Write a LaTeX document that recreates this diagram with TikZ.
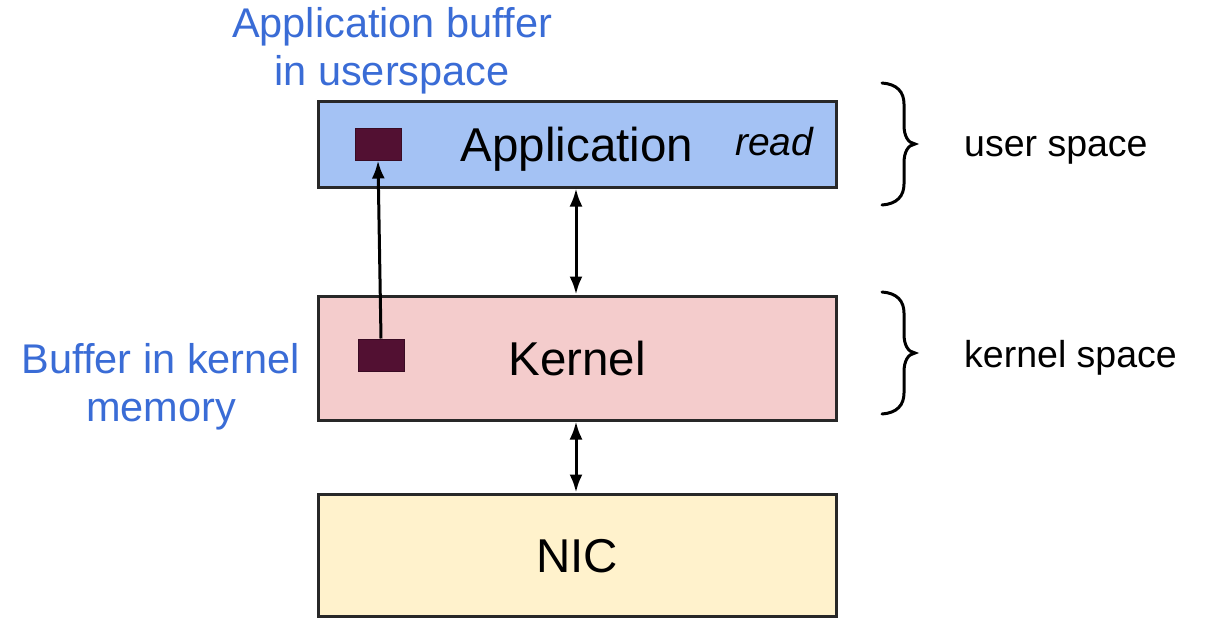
\documentclass[tikz,border=0pt]{standalone}
\usepackage{fontspec}
\setmainfont{Liberation Sans}
\usetikzlibrary{arrows.meta}

\definecolor{appblue}{RGB}{164,194,244}
\definecolor{kernpink}{RGB}{244,204,204}
\definecolor{nicyellow}{RGB}{255,242,204}
\definecolor{bufmaroon}{RGB}{82,16,50}
\definecolor{notetext}{RGB}{58,108,214}
\definecolor{edge}{RGB}{40,40,40}

\tikzset{
  layer/.style={draw=edge, line width=3pt, minimum width=518pt,
    text height=34pt, text depth=0pt, inner sep=0pt,
    font=\fontsize{47.5}{56}\selectfont},
  bufbox/.style={draw=bufmaroon!70!black, fill=bufmaroon, line width=1pt,
    minimum width=46pt, minimum height=32pt, inner sep=0pt},
  note/.style={text=notetext, align=center, inner sep=0pt, anchor=north,
    font=\fontsize{41.5}{48}\selectfont},
  spacelabel/.style={anchor=west, inner sep=0pt, font=\fontsize{37.5}{45}\selectfont},
  link/.style={line width=3pt, draw=black},
  tip/.style={-{Latex[length=18pt,width=13pt]}},
  twotips/.style={{Latex[length=18pt,width=13pt]}-{Latex[length=18pt,width=13pt]}},
  pics/curlybrace/.style={code={
    \draw[line width=3pt, line cap=round]
      (0,-61) .. controls (15,-60) and (22,-52) .. (22,-40) -- (22,-19)
      .. controls (22,-8) and (26,-1) .. (33,0)
      .. controls (26,1) and (22,8) .. (22,19) -- (22,40)
      .. controls (22,52) and (15,60) .. (0,61);
  }}
}

\begin{document}
\begin{tikzpicture}[x=1pt, y=-1pt]
  \useasboundingbox (0,0) rectangle (1207,618);

  % stacked layers
  \node[layer, fill=appblue, minimum height=86pt] (app) at (577,144) {Application};
  \node[layer, fill=kernpink, minimum height=124pt] (kernel) at (577,358) {Kernel};
  \node[layer, fill=nicyellow, minimum height=122pt] (nic) at (577,555) {NIC};

  \node[anchor=base west, inner sep=0pt,
        font=\fontsize{39}{46}\selectfont\itshape] (read) at (735,155) {read};

  % buffers
  \node[bufbox] (ubuf) at (378,144) {};
  \node[bufbox] (kbuf) at (381,355) {};

  % data paths
  \draw[link, tip] (kbuf.north) -- (ubuf.south);
  \draw[link, twotips] ([xshift=-1pt]app.south) -- ([xshift=-1pt]kernel.north);
  \draw[link, twotips] ([xshift=-1pt]kernel.south) -- ([xshift=-1pt]nic.north);

  % annotations
  \node[note] (ubufnote) at (392,7) {Application buffer\\in userspace};
  \node[note] (kbufnote) at (161,343) {Buffer in kernel\\memory};

  % address spaces
  \pic at (882,144) {curlybrace};
  \pic at (882,353) {curlybrace};
  \node[spacelabel] (uspace) at (964,150) {user space};
  \node[spacelabel] (kspace) at (964,358) {kernel space};
\end{tikzpicture}
\end{document}
